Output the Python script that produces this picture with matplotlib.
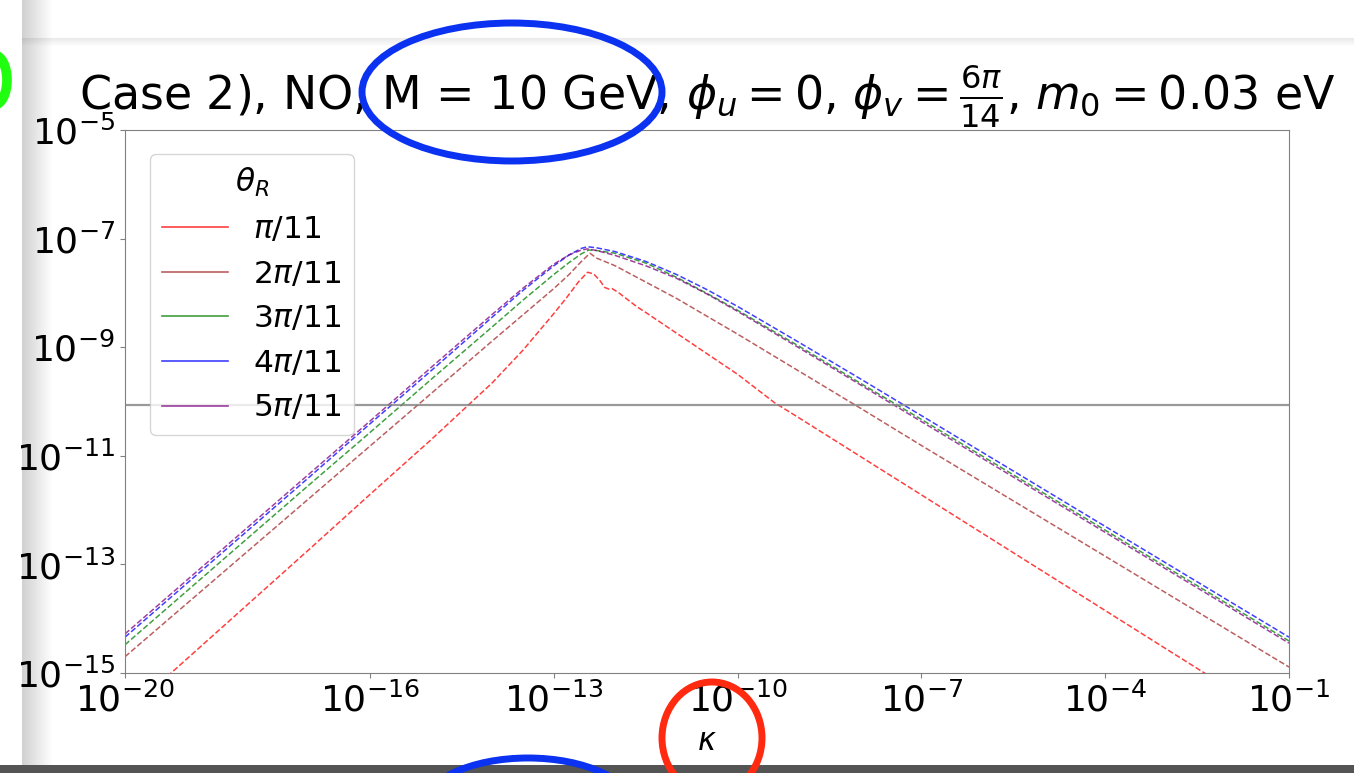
import numpy as np
import matplotlib
matplotlib.use('Agg')
from matplotlib import pyplot as plt
from matplotlib.lines import Line2D
from matplotlib.patches import Ellipse

# log10(kappa) grid
k_left = [-20, -19, -18, -17, -16, -15, -14, -13.5, -13, -12.75, -12.55]
k_right = [-12.3, -12, -11.5, -11, -10.5, -10, -9, -8, -7, -6, -5, -4, -3, -2, -1]

# log10(Y) for each theta_R curve
y_blue = [-14.34, -13.36, -12.38, -11.40, -10.41, -9.43, -8.44, -7.95, -7.50, -7.30, -7.18,
          -7.15,
          -7.17, -7.24, -7.42, -7.66, -7.94, -8.25, -8.91, -9.58, -10.26, -10.94, -11.62, -12.30,
          -12.98, -13.66, -14.34]
y_purple = [-14.28, -13.30, -12.32, -11.34, -10.36, -9.37, -8.39, -7.91, -7.47, -7.30, -7.21,
            -7.19,
            -7.22, -7.31, -7.50, -7.73, -8.02, -8.34, -9.01, -9.69, -10.37, -11.05, -11.73, -12.41,
            -13.09, -13.77, -14.45]
y_green = [-14.48, -13.50, -12.52, -11.54, -10.57, -9.59, -8.62, -8.13, -7.66, -7.44, -7.28,
           -7.21,
           -7.22, -7.27, -7.45, -7.71, -8.01, -8.32, -8.98, -9.66, -10.33, -11.01, -11.69, -12.37,
           -13.05, -13.73, -14.41]
y_brown = [-14.70, -13.73, -12.76, -11.79, -10.82, -9.85, -8.88, -8.40, -7.92, -7.66, -7.42,
           -7.27,
           -7.36, -7.50, -7.80, -8.10, -8.43, -8.76, -9.44, -10.12, -10.81, -11.49, -12.17, -12.85,
           -13.53, -14.21, -14.89]
peak_k = [-12.45, -12.45, -12.43, -12.41]

# red curve has its own shape (dip + bump after the peak)
k_red = [-20, -19, -18, -17, -16, -15, -14, -13.5, -13, -12.8, -12.6, -12.45, -12.35, -12.25,
         -12.17, -12.1, -12.05, -11.95, -11.8, -11.65, -11.5, -11, -10.5, -10, -9.4, -9, -8, -7,
         -6, -5, -4, -3, -2, -1]
y_red = [-15.76, -14.75, -13.74, -12.73, -11.71, -10.70, -9.65, -9.05, -8.38, -8.10, -7.80, -7.62,
         -7.65, -7.77, -7.90, -7.93, -7.92, -7.99, -8.12, -8.25, -8.36, -8.74, -9.12, -9.50,
         -10.02, -10.30, -11.01, -11.72, -12.43, -13.14, -13.85, -14.56, -15.27, -15.98]

Y_obs = 8.7e-11
labels = [r'$\pi/11$', r'$2\pi/11$', r'$3\pi/11$', r'$4\pi/11$', r'$5\pi/11$']
colors = ['red', 'brown', 'green', 'blue', 'purple']

W, H = 1354, 773
fig = plt.figure(figsize=(W / 100, H / 100), dpi=100)

# screenshot background: page shadow on the left/top, dark bar at bottom
bg = np.ones((H, W, 3))
xs = np.arange(W)
left_sh = np.clip((xs - 22) / 30.0, 0, 1)
left_sh = np.where(xs < 22, 1.0, 0.82 + 0.18 * left_sh)
bg *= left_sh[None, :, None]
ys = np.arange(H)
top_sh = np.where(ys < 38, 1.0, np.clip(0.92 + 0.08 * (ys - 38) / 8.0, 0, 1))
bg[:, 22:, :] *= top_sh[:, None, None]
bg[765:, :, :] = 0.33
bax = fig.add_axes([0, 0, 1, 1], zorder=-5)
bax.imshow(bg, aspect='auto', interpolation='bilinear')
bax.axis('off')

ax = fig.add_axes([125 / W, 1 - 673 / H, (1289 - 125) / W, (673 - 130) / H])

curves = [(k_red, y_red)]
for yv, pk in zip([y_brown, y_green, y_blue, y_purple], [peak_k[3], peak_k[2], peak_k[0], peak_k[1]]):
    curves.append((k_left + [pk] + k_right, yv))

for (kk, yy), c in zip(curves, colors):
    ax.plot(10.0 ** np.array(kk), 10.0 ** np.array(yy), '--', color=c, lw=1.1, alpha=0.75)

ax.axhline(Y_obs, color='gray', lw=1.6, alpha=0.8)

ax.set_xscale('log')
ax.set_yscale('log')
ax.set_xlim(1e-20, 1e-1)
ax.set_ylim(1e-15, 1e-5)
ax.set_xticks([1e-20, 1e-16, 1e-13, 1e-10, 1e-7, 1e-4, 1e-1])
ax.set_yticks([1e-15, 1e-13, 1e-11, 1e-9, 1e-7, 1e-5])
ax.minorticks_off()
ax.tick_params(labelsize=26, color='gray')
for s in ax.spines.values():
    s.set_color('gray')
ax.set_xlabel(r'$\kappa$', fontsize=22, labelpad=6)
ax.set_title(r'Case 2), NO, M = 10 GeV, $\phi_u = 0$, $\phi_v = \frac{6\pi}{14}$, $m_0 = 0.03$ eV',
             fontsize=33, pad=2)

handles = [Line2D([], [], color=c, lw=1.2, alpha=0.75) for c in colors]
ax.legend(handles, labels, title=r'$\theta_R$', loc='upper left', fontsize=22.5, title_fontsize=22.5,
          handlelength=2.1, bbox_to_anchor=(0.008, 0.985))

# hand-drawn annotation circles on the screenshot
def px_ellipse(cx, cy, w, h, col, lw=5):
    e = Ellipse((cx / W, 1 - cy / H), w / W, h / H, transform=fig.transFigure, fill=False,
                edgecolor=col, lw=lw, zorder=10, clip_on=False)
    fig.add_artist(e)

px_ellipse(512, 92, 300, 138, '#0a32f0')
px_ellipse(712, 738, 100, 112, '#ff2a10')
px_ellipse(528, 808, 210, 100, '#0a32f0')
px_ellipse(-6, 80, 26, 50, '#20ff10', lw=7)

fig.savefig('out.png', dpi=100)
